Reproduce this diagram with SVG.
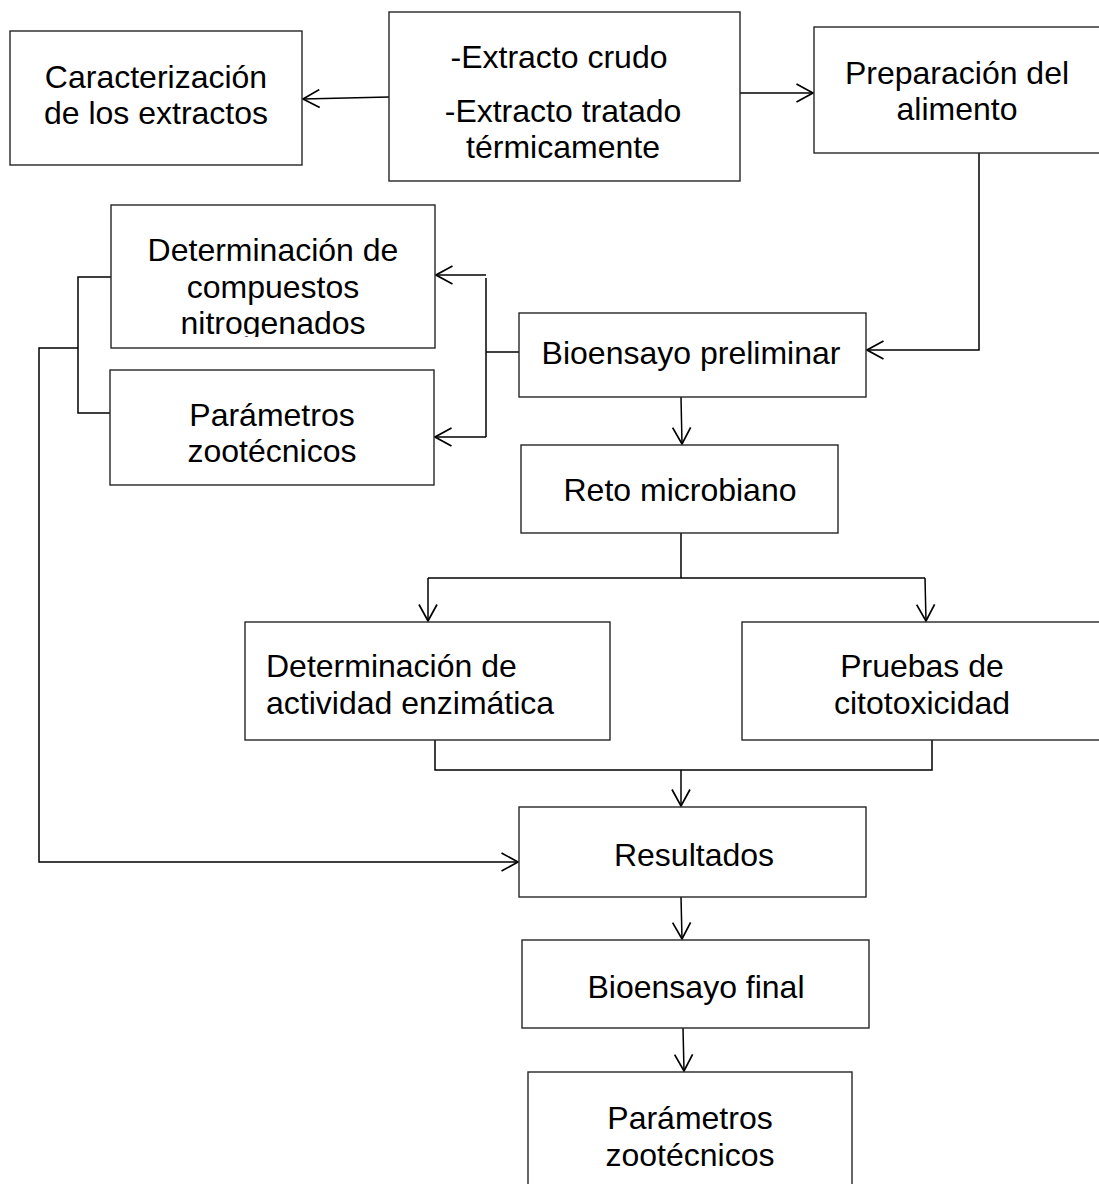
<svg xmlns="http://www.w3.org/2000/svg" width="1099" height="1184" viewBox="0 0 1099 1184">
<style>
.box{fill:#fff;stroke:#262626;stroke-width:1.4}
.t{font-family:"Liberation Sans",Arial,sans-serif;font-size:32px;fill:#000;text-anchor:middle}
.tl{font-family:"Liberation Sans",Arial,sans-serif;font-size:32px;fill:#000;text-anchor:start}
.c{fill:none;stroke:#000;stroke-width:1.5}
</style>
<defs>
<marker id="ah" viewBox="0 0 19 20" refX="17.5" refY="10" markerWidth="19" markerHeight="20" markerUnits="userSpaceOnUse" orient="auto">
<path d="M1,1 L17.5,10 L1,19" fill="none" stroke="#000" stroke-width="1.7"/>
</marker>
<clipPath id="clipNit"><rect x="100" y="200" width="350" height="137"/></clipPath>
</defs>
<rect width="1099" height="1184" fill="#fff"/>
<g id="connectors">
<path class="c" d="M389,97 L303,99" marker-end="url(#ah)"/>
<path class="c" d="M732,93 L813,93" marker-end="url(#ah)"/>
<path class="c" d="M979,150 L979,350 L867,350" marker-end="url(#ah)"/>
<path class="c" d="M519,352 L486,352"/>
<path class="c" d="M486,278 L486,437"/>
<path class="c" d="M486,275 L436,275" marker-end="url(#ah)"/>
<path class="c" d="M486,437 L435,437" marker-end="url(#ah)"/>
<path class="c" d="M111,277 L78,277 L78,413 L110,413"/>
<path class="c" d="M78,348 L39,348 L39,862 L518,862" marker-end="url(#ah)"/>
<path class="c" d="M681,397 L682,444" marker-end="url(#ah)"/>
<path class="c" d="M681,533 L681,578"/>
<path class="c" d="M428,578 L925,578"/>
<path class="c" d="M428,578 L428,621" marker-end="url(#ah)"/>
<path class="c" d="M925,578 L926,621" marker-end="url(#ah)"/>
<path class="c" d="M435,740 L435,770 L932,770 L932,740"/>
<path class="c" d="M681,770 L681,806" marker-end="url(#ah)"/>
<path class="c" d="M681,897 L682,939" marker-end="url(#ah)"/>
<path class="c" d="M683,1028 L684,1071" marker-end="url(#ah)"/>
</g>
<g id="caracterizacion">
<rect class="box" x="10" y="31" width="292" height="134"/>
<text class="t" x="156" y="88">Caracterización</text>
<text class="t" x="156" y="124">de los extractos</text>
</g>
<g id="extractos">
<rect class="box" x="389" y="12" width="351" height="169"/>
<text class="t" x="559" y="68">-Extracto crudo</text>
<text class="t" x="563" y="122">-Extracto tratado</text>
<text class="t" x="563" y="158">térmicamente</text>
</g>
<g id="preparacion">
<rect class="box" x="814" y="27" width="290" height="126"/>
<text class="t" x="957" y="84">Preparación del</text>
<text class="t" x="957" y="120">alimento</text>
</g>
<g id="compuestos">
<rect class="box" x="111" y="205" width="324" height="143"/>
<text class="t" x="273" y="261">Determinación de</text>
<text class="t" x="273" y="298">compuestos</text>
<text class="t" x="273" y="334" clip-path="url(#clipNit)">nitrogenados</text>
</g>
<g id="parametros1">
<rect class="box" x="110" y="370" width="324" height="115"/>
<text class="t" x="272" y="426">Parámetros</text>
<text class="t" x="272" y="462">zootécnicos</text>
</g>
<g id="bioensayo-preliminar">
<rect class="box" x="519" y="313" width="347" height="84"/>
<text class="t" x="691" y="364">Bioensayo preliminar</text>
</g>
<g id="reto">
<rect class="box" x="521" y="445" width="317" height="88"/>
<text class="t" x="680" y="501">Reto microbiano</text>
</g>
<g id="actividad">
<rect class="box" x="245" y="622" width="365" height="118"/>
<text class="tl" x="266" y="677">Determinación de</text>
<text class="tl" x="266" y="714">actividad enzimática</text>
</g>
<g id="citotoxicidad">
<rect class="box" x="742" y="622" width="362" height="118"/>
<text class="t" x="922" y="677">Pruebas de</text>
<text class="t" x="922" y="714">citotoxicidad</text>
</g>
<g id="resultados">
<rect class="box" x="519" y="807" width="347" height="90"/>
<text class="t" x="694" y="866">Resultados</text>
</g>
<g id="bioensayo-final">
<rect class="box" x="522" y="940" width="347" height="88"/>
<text class="t" x="696" y="998">Bioensayo final</text>
</g>
<g id="parametros2">
<rect class="box" x="528" y="1072" width="324" height="120"/>
<text class="t" x="690" y="1129">Parámetros</text>
<text class="t" x="690" y="1166">zootécnicos</text>
</g>
</svg>
